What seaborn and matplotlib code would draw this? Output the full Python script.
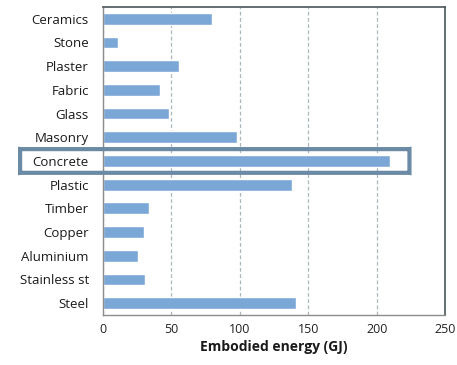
import numpy as np
import pandas as pd
import seaborn as sns
import matplotlib.pyplot as plt
import matplotlib.transforms as mtransforms
from matplotlib.patches import FancyBboxPatch

materials = ["Ceramics", "Stone", "Plaster", "Fabric", "Glass", "Masonry", "Concrete",
             "Plastic", "Timber", "Copper", "Aluminium", "Stainless st", "Steel"]
energy = [80, 11, 56, 42, 48, 98, 210, 138, 34, 30, 26, 31, 141]
highlight = "Concrete"

df = pd.DataFrame({"material": materials, "energy": energy})

sns.set_style("white")
plt.rcParams['font.family'] = ['Open Sans', 'DejaVu Sans']

fig = plt.figure(figsize=(4.57, 3.65), dpi=100)
ax = fig.add_axes([0.225, 0.137, 0.749, 0.844])

sns.barplot(data=df, y="material", x="energy", orient="h", color="#7ba7d7",
            saturation=1, width=0.5, ax=ax)

# axis setup
ax.set_xlim(0, 250)
ax.set_xticks([0, 50, 100, 150, 200, 250])
ax.set_ylim(len(materials) - 0.5, -0.5)
ax.set_ylabel("")
ax.set_xlabel("Embodied energy (GJ)", fontsize=10, fontweight="bold", color="#1a1a1a", labelpad=3)
ax.tick_params(axis="x", labelsize=9, colors="#222222", length=0, pad=6)
ax.tick_params(axis="y", labelsize=9.5, colors="#1a1a1a", length=0, pad=10)
ax.set_yticks(np.arange(-0.5, len(materials)), minor=True)
ax.tick_params(axis="y", which="minor", length=4, color="#7f7f7f", width=1)
ax.set_xticks([0, 50, 100, 150, 200, 250], minor=True)
ax.tick_params(axis="x", which="minor", length=4, color="#7f7f7f", width=1)

ax.xaxis.grid(True, linestyle=(0, (3, 2)), color="#aab8bd", linewidth=0.9)
ax.set_axisbelow(True)

for side in ["top", "right"]:
    ax.spines[side].set_color("#4a5558")
    ax.spines[side].set_linewidth(1.2)
for side in ["left", "bottom"]:
    ax.spines[side].set_color("#8c8c8c")
    ax.spines[side].set_linewidth(1.0)

# highlight box around the concrete row
idx = materials.index(highlight)
trans = mtransforms.blended_transform_factory(fig.transFigure, ax.transData)
box = FancyBboxPatch((0.044, idx + 0.5), 0.852, -1.0, transform=trans,
                     boxstyle="round,pad=0,rounding_size=0.004",
                     fill=False, edgecolor="#6a8aa5", linewidth=3, clip_on=False)
fig.patches.append(box)

fig.savefig("out.png", dpi=100)
